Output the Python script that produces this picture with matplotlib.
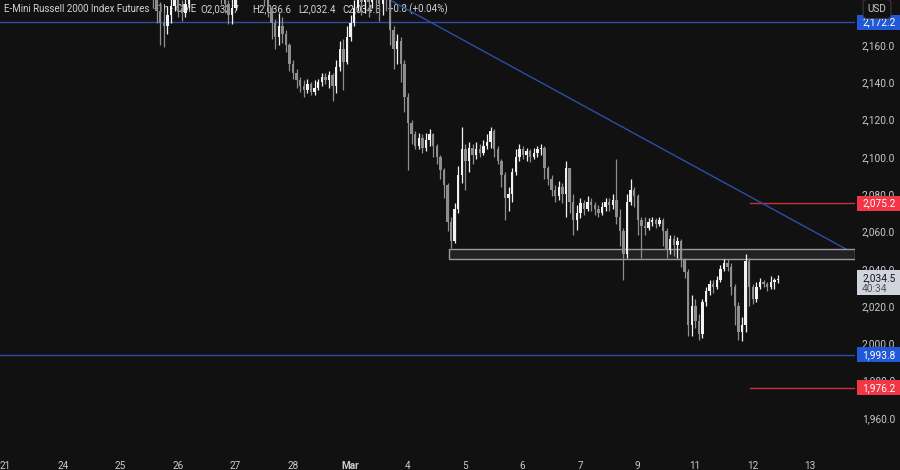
import matplotlib
matplotlib.use('Agg')
import matplotlib.pyplot as plt
from matplotlib.patches import Rectangle

# Velas (cierre, maximo, minimo), de izquierda a derecha
closes = [2190, 2192, 2188, 2186, 2178, 2172, 2170, 2176, 2181, 2186,
          2180, 2177, 2182, 2187, 2190, 2192, 2195, 2193, 2196, 2194,
          2191, 2189, 2187, 2182, 2176, 2180, 2186, 2189, 2192, 2194,
          2197, 2195, 2192, 2189, 2186, 2180, 2172, 2164, 2170, 2166,
          2160, 2150, 2145, 2141, 2138, 2136, 2139, 2135, 2137, 2140,
          2143, 2141, 2144, 2138, 2148, 2158, 2151, 2164, 2172, 2180,
          2186, 2183, 2186, 2183, 2188, 2187, 2182, 2186, 2184, 2168,
          2158, 2162, 2150, 2132, 2118, 2112, 2106, 2110, 2105, 2109,
          2112, 2106, 2100, 2093, 2085, 2065, 2055, 2072, 2090, 2104,
          2098, 2105, 2101, 2104, 2102, 2106, 2108, 2114, 2104, 2098,
          2090, 2078, 2080, 2092, 2100, 2104, 2101, 2103, 2100, 2102,
          2104, 2105, 2094, 2088, 2082, 2079, 2084, 2080, 2094, 2076,
          2066, 2070, 2075, 2072, 2076, 2074, 2072, 2070, 2073, 2076,
          2074, 2077, 2068, 2060, 2048, 2076, 2082, 2079, 2066, 2063,
          2062, 2065, 2066, 2064, 2066, 2060, 2050, 2056, 2053, 2055,
          2045, 2038, 2010, 2020, 2012, 2005, 2022, 2028, 2032, 2030,
          2034, 2040, 2043, 2041, 2030, 2020, 2006, 2010, 2044, 2030,
          2024, 2030, 2033, 2032, 2030, 2033, 2033.7, 2034.5]
highs = [2195, 2196, 2194, 2191, 2187, 2183, 2178, 2181, 2186, 2190,
         2188, 2184, 2186, 2190, 2194, 2196, 2199, 2198, 2200, 2199,
         2196, 2193, 2191, 2189, 2184, 2185, 2189, 2193, 2196, 2198,
         2201, 2200, 2197, 2194, 2191, 2187, 2181, 2174, 2177, 2175,
         2168, 2161, 2152, 2147, 2143, 2141, 2142, 2140, 2141, 2142,
         2145, 2145, 2146, 2145, 2152, 2162, 2163, 2170, 2176, 2184,
         2190, 2189, 2190, 2189, 2191, 2192, 2189, 2190, 2189, 2185,
         2170, 2166, 2164, 2152, 2134, 2120, 2114, 2113, 2112, 2113,
         2115, 2113, 2107, 2101, 2094, 2086, 2068, 2075, 2095, 2116,
         2107, 2108, 2107, 2108, 2107, 2109, 2112, 2116, 2115, 2106,
         2099, 2092, 2084, 2094, 2104, 2107, 2106, 2105, 2104, 2105,
         2106, 2107, 2106, 2095, 2090, 2085, 2087, 2086, 2098, 2094,
         2080, 2074, 2078, 2077, 2079, 2078, 2076, 2074, 2076, 2078,
         2078, 2080, 2099, 2072, 2062, 2080, 2088, 2084, 2080, 2068,
         2068, 2067, 2068, 2067, 2068, 2067, 2062, 2058, 2058, 2057,
         2056, 2046, 2040, 2026, 2024, 2016, 2024, 2030, 2034, 2034,
         2036, 2042, 2045, 2045, 2043, 2032, 2022, 2014, 2048, 2046,
         2032, 2033, 2035, 2034, 2033, 2036, 2035, 2036.6]
lows = [2186, 2188, 2185, 2180, 2172, 2160, 2159, 2166, 2172, 2178,
        2175, 2173, 2175, 2180, 2185, 2188, 2190, 2189, 2191, 2190,
        2187, 2185, 2182, 2177, 2171, 2171, 2179, 2185, 2187, 2190,
        2192, 2191, 2188, 2185, 2181, 2175, 2163, 2158, 2160, 2161,
        2156, 2146, 2142, 2137, 2135, 2132, 2134, 2133, 2133, 2136,
        2138, 2139, 2137, 2130, 2134, 2146, 2136, 2150, 2162, 2170,
        2178, 2176, 2177, 2175, 2180, 2177, 2173, 2176, 2178, 2160,
        2147, 2150, 2140, 2124, 2093, 2107, 2104, 2104, 2102, 2103,
        2106, 2100, 2096, 2088, 2078, 2060, 2051, 2054, 2070, 2086,
        2082, 2092, 2096, 2099, 2100, 2101, 2104, 2105, 2100, 2096,
        2084, 2066, 2071, 2076, 2090, 2098, 2099, 2098, 2097, 2099,
        2100, 2101, 2088, 2085, 2079, 2076, 2077, 2075, 2068, 2070,
        2058, 2061, 2067, 2069, 2071, 2071, 2069, 2068, 2069, 2071,
        2071, 2072, 2064, 2052, 2034, 2046, 2074, 2073, 2058, 2046,
        2058, 2061, 2063, 2062, 2063, 2052, 2046, 2048, 2047, 2046,
        2041, 2035, 2004, 2004, 2008, 2002, 2003, 2020, 2026, 2027,
        2029, 2033, 2039, 2039, 2026, 2010, 2002, 2001, 2006, 2020,
        2021, 2022, 2029, 2030, 2028, 2029, 2029, 2032.4]
first_open = 2193

day_labels = ['21', '24', '25', '26', '27', '28', 'Mar', '4', '5', '6', '7', '9', '11', '12', '13']
price_ticks = [1960, 1980, 2000, 2020, 2040, 2060, 2080, 2100, 2120, 2140, 2160]

blue_levels = [2172.2, 1993.8]
red_levels = [2075.2, 1976.2]
box_low, box_high = 2045.1, 2050.4
trend_x = [6.0, 14.784]
trend_y = [2195.7, 2047.9]
last_price = 2034.5

bg = '#111111'
up_col = '#f2f2f2'
down_col = '#8e8e8e'
txt_col = '#c8cad0'
blue_line = '#2c4ea8'
red_line = '#c4313b'
blue_tag = '#2158d8'
red_tag = '#f23645'

plt.rcParams['font.family'] = ['Roboto', 'DejaVu Sans']

fig = plt.figure(figsize=(9, 4.7), dpi=100, facecolor=bg)
ax = fig.add_axes([0, 27 / 470, 855 / 900, 443 / 470])
ax.set_facecolor(bg)

# velas
opens = [first_open] + closes[:-1]
day0 = 2.38
step = 1 / 16.0
for i in range(len(closes)):
  x = day0 + i * step
  o, c, h, l = opens[i], closes[i], highs[i], lows[i]
  col = up_col if c >= o else down_col
  ax.vlines(x, l, h, color=col, linewidth=0.9, zorder=3)
  alto = max(abs(c - o), 0.5)
  ax.bar(x, alto, bottom=min(o, c), width=0.042, color=col, linewidth=0, zorder=3)

# lineas horizontales y dibujos
for lv in blue_levels:
  ax.axhline(lv, color=blue_line, linewidth=1, zorder=2)
for lv in red_levels:
  ax.plot([12.957, 14.784], [lv, lv], color=red_line, linewidth=1, zorder=2)
ax.plot(trend_x, trend_y, color=blue_line, linewidth=1, zorder=2)
ax.add_patch(Rectangle((7.718, box_low), 14.784 - 7.718, box_high - box_low,
                       facecolor='#222224', edgecolor='#9a9a9a', linewidth=1, zorder=2))

ax.set_xlim(-0.0957, 14.784)
ax.set_ylim(2184.1 - 443 / 1.865, 2184.1)

for s in ax.spines.values():
  s.set_visible(False)

ax.set_xticks(range(len(day_labels)))
ax.set_xticklabels(day_labels)
ax.tick_params(axis='x', length=0, pad=13, labelsize=7.2, labelcolor=txt_col)
ax.get_xticklabels()[6].set_fontweight('bold')

ax.yaxis.tick_right()
ax.set_yticks(price_ticks)
ax.set_yticklabels(['{:,.1f}'.format(v) for v in price_ticks])
ax.tick_params(axis='y', length=0, pad=5, labelsize=7.3, labelcolor=txt_col)

# titulo (queda debajo de las velas)
title_parts = [(4, 'E-Mini Russell 2000 Index Futures'), (153, '\u00b7 1h \u00b7 CME'),
               (200, 'O2,033.7'), (252, 'H2,036.6'), (298, 'L2,032.4'),
               (342, 'C2,034.5'), (388, '+0.8 (+0.04%)')]
for px, t in title_parts:
  ax.text(px / 855, 1 - 9 / 443, t, transform=ax.transAxes, fontsize=7.0,
          color='#d1d4dc', va='center', ha='left', zorder=1)

# etiquetas de precio en el eje derecho
ytr = ax.get_yaxis_transform()
tag_h = 15 / 1.865

def tag(price, color, label):
  ax.add_patch(Rectangle((1.0 + 2 / 855, price - tag_h / 2), 45 / 855, tag_h,
                         transform=ytr, facecolor=color, edgecolor='none',
                         clip_on=False, zorder=5))
  ax.text(1.0 + 7 / 855, price, label, transform=ytr, color='white', fontsize=7.3,
          va='center', ha='left', clip_on=False, zorder=6)

tag(blue_levels[0], blue_tag, '2,172.2')
tag(red_levels[0], red_tag, '2,075.2')
tag(blue_levels[1], blue_tag, '1,993.8')
tag(red_levels[1], red_tag, '1,976.2')

# precio actual
ax.add_patch(Rectangle((1.0 + 2 / 855, last_price - 16 / 1.865), 45 / 855, 25 / 1.865,
                       transform=ytr, facecolor='#d1d4dc', edgecolor='none',
                       clip_on=False, zorder=5))
ax.text(1.0 + 7 / 855, last_price + 1 / 1.865, '2,034.5', transform=ytr, color='#131722',
        fontsize=7.3, va='center', ha='left', clip_on=False, zorder=6)
ax.text(1.0 + 7 / 855, last_price - 10 / 1.865, '40:34', transform=ytr, color='#50535e',
        fontsize=7.3, va='center', ha='left', clip_on=False, zorder=6)

# caja USD
fig.text(877 / 900, 1 - 9 / 470, 'USD', ha='center', va='center', fontsize=7.2,
         color=txt_col, zorder=10,
         bbox=dict(boxstyle='round,pad=0.45,rounding_size=0.4', facecolor=bg,
                   edgecolor='#3a3a3a', linewidth=0.8))

fig.savefig('out.png', dpi=100, facecolor=bg)
